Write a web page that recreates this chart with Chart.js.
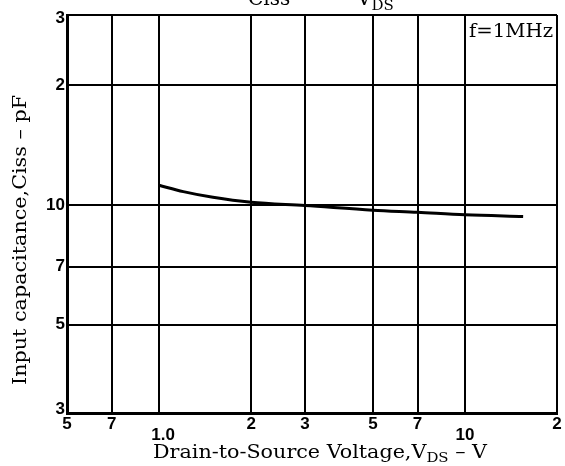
<!DOCTYPE html>
<html>
<head>
<meta charset="utf-8">
<script src="https://cdn.jsdelivr.net/npm/chart.js@4/dist/chart.umd.min.js"></script>
<style>
    html, body { margin: 0; padding: 0; background: #ffffff; }
    canvas { display: block; }
</style>
</head>
<body>
<canvas id="cissChart" width="565" height="466"></canvas>
<script>
// Ciss vs VDS
const vds = [1.0, 1.2, 1.5, 2, 3, 5, 7, 10, 15.5];
const ciss = [11.2, 10.8, 10.45, 10.15, 9.96, 9.7, 9.58, 9.44, 9.35];

// Tick values and the labels printed next to them
const xTicks = [0.5, 0.7, 1, 2, 3, 5, 7, 10, 20];
const xTickLabels = ['5', '7', '1.0', '2', '3', '5', '7', '10', '2'];
const yTicks = [3, 5, 7, 10, 20, 30];
const yTickLabels = ['3', '5', '7', '10', '2', '3'];

const serif = '"DejaVu Serif", serif';
const tickFont = 'bold 17px "Liberation Sans", Arial, sans-serif';

// draw text + subscript pieces left to right, returns end x
function drawPieces(ctx, pieces, x, y) {
    pieces.forEach(p => {
        ctx.font = p.font;
        ctx.fillText(p.text, x, y + (p.dy || 0));
        x += ctx.measureText(p.text).width;
    });
    return x;
}

function piecesWidth(ctx, pieces) {
    let w = 0;
    pieces.forEach(p => {
        ctx.font = p.font;
        w += ctx.measureText(p.text).width;
    });
    return w;
}

// the scanned font is wider than DejaVu, so stretch to the printed width
function drawStretched(ctx, pieces, width) {
    const w = piecesWidth(ctx, pieces);
    ctx.save();
    ctx.scale(width / w, 1);
    drawPieces(ctx, pieces, -w / 2, 0);
    ctx.restore();
}

const textPlugin = {
    id: 'datasheetText',
    afterDraw(chart) {
        const ctx = chart.ctx;
        const xs = chart.scales.x;
        const ys = chart.scales.y;
        const area = chart.chartArea;
        ctx.save();
        ctx.fillStyle = '#000';

        // tick labels
        ctx.font = tickFont;
        ctx.textAlign = 'right';
        ctx.textBaseline = 'middle';
        yTicks.forEach((v, i) => {
            let py = ys.getPixelForValue(v);
            if (i === 0) py -= 4;
            if (i === yTicks.length - 1) py += 3;
            ctx.fillText(yTickLabels[i], area.left - 2, py);
        });
        ctx.textAlign = 'center';
        ctx.textBaseline = 'top';
        xTicks.forEach((v, i) => {
            const lab = xTickLabels[i];
            const low = (lab === '1.0' || lab === '10');
            let px = xs.getPixelForValue(v);
            if (lab === '1.0') px += 4;
            ctx.fillText(lab, px, area.bottom + (low ? 14 : 3));
        });

        // frequency note, covers the top of the 10 V grid line
        ctx.fillStyle = '#fff';
        ctx.fillRect(467, area.top + 2, area.right - 468, 24);
        ctx.fillStyle = '#000';
        ctx.textAlign = 'left';
        ctx.textBaseline = 'alphabetic';
        ctx.save();
        ctx.translate(511, 37);
        drawStretched(ctx, [{ text: 'f=1MHz', font: '18px ' + serif }], 84);
        ctx.restore();

        // clipped title at the very top
        ctx.font = '20px ' + serif;
        ctx.fillText('Ciss', 248, 5);
        drawPieces(ctx, [
            { text: 'V', font: '20px ' + serif },
            { text: 'DS', font: '15px ' + serif, dy: 5 }
        ], 357, 5);

        // x axis title
        ctx.save();
        ctx.translate(320, 458);
        drawStretched(ctx, [
            { text: 'Drain-to-Source Voltage,V', font: '18px ' + serif },
            { text: 'DS', font: '13px ' + serif, dy: 4 },
            { text: ' \u2013 V', font: '18px ' + serif }
        ], 334);
        ctx.restore();

        // y axis title
        ctx.save();
        ctx.translate(26, 240);
        ctx.rotate(-Math.PI / 2);
        drawStretched(ctx, [{ text: 'Input capacitance,Ciss \u2013 pF', font: '18px ' + serif }], 290);
        ctx.restore();

        ctx.restore();
    }
};

const gridOpts = {
    color: '#000',
    lineWidth: 2,
    drawTicks: false
};

new Chart(document.getElementById('cissChart'), {
    type: 'line',
    data: {
        datasets: [{
            data: vds.map((v, i) => ({ x: v, y: ciss[i] })),
            borderColor: '#000',
            borderWidth: 3,
            pointRadius: 0,
            cubicInterpolationMode: 'monotone',
            fill: false
        }]
    },
    options: {
        responsive: false,
        animation: false,
        layout: { padding: { left: 67, top: 15, right: 8, bottom: 53 } },
        plugins: {
            legend: { display: false },
            tooltip: { enabled: false }
        },
        scales: {
            x: {
                type: 'logarithmic',
                min: 0.5,
                max: 20,
                afterBuildTicks: scale => { scale.ticks = xTicks.map(v => ({ value: v })); },
                ticks: { display: false },
                grid: gridOpts,
                border: { display: true, color: '#000', width: 3 }
            },
            y: {
                type: 'logarithmic',
                min: 3,
                max: 30,
                afterBuildTicks: scale => { scale.ticks = yTicks.map(v => ({ value: v })); },
                ticks: { display: false },
                grid: gridOpts,
                border: { display: true, color: '#000', width: 3 }
            }
        }
    },
    plugins: [textPlugin]
});
</script>
</body>
</html>
